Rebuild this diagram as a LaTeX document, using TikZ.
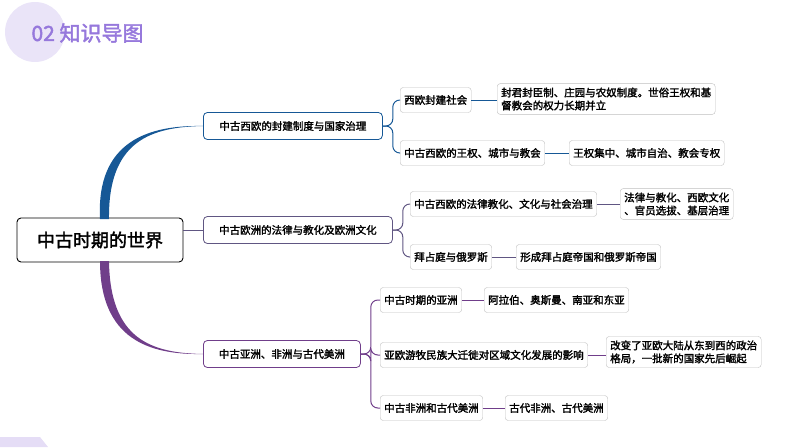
\documentclass[tikz,border=0pt]{standalone}
\usepackage{fontspec}
\setmainfont{Noto Sans CJK SC}[AutoFakeBold=2]
\usetikzlibrary{positioning}
\definecolor{bluebr}{RGB}{22,88,150}
\definecolor{purplebr}{RGB}{112,62,138}
\definecolor{graybr}{RGB}{96,86,130}
\definecolor{titlecol}{RGB}{150,120,220}
\begin{document}
\begin{tikzpicture}[x=1pt,y=-1pt,
  box/.style={draw=black!25,rounded corners=3pt,fill=white,font=\bfseries\fontsize{10.5}{13}\selectfont,inner sep=4pt,minimum height=25pt,align=left},
  mainbox/.style={draw,rounded corners=4pt,line width=0.8pt,fill=white,font=\bfseries\fontsize{10.5}{13}\selectfont,minimum height=27pt,align=center},
  link/.style={line width=1pt,rounded corners=7pt}]
\useasboundingbox (0,0) rectangle (794,447);

% title
\fill [color = titlecol!20] (35,32) circle (30);
\node (title) [anchor=west, text=titlecol, font=\bfseries\fontsize{21}{24}\selectfont] at (28,33) {02 知识导图};
\fill [color = titlecol!25] (0,447) -- (0,437) -- (40,437) -- (48,447) -- cycle;

% root
\node (root) [draw, rounded corners=4pt, line width=0.9pt, minimum width=166pt, minimum height=44pt,
  font=\bfseries\fontsize{18}{21}\selectfont] at (100,240) {中古时期的世界};

% first level
\node (a) [mainbox, draw=bluebr, minimum width=179pt, anchor=west] at (203,126) {中古西欧的封建制度与国家治理};
\node (b) [mainbox, draw=graybr, minimum width=189pt, anchor=west] at (203,230) {中古欧洲的法律与教化及欧洲文化};
\node (c) [mainbox, draw=purplebr, minimum width=157pt, anchor=west] at (203,354) {中古亚洲、非洲与古代美洲};

% root branches
\fill [bluebr] (100,219) .. controls (96,140) and (150,125) .. (a.west)
  .. controls (152,127) and (108,140) .. (109,219) -- cycle;
\fill [purplebr] (100,261) .. controls (100,340) and (150,355) .. (c.west)
  .. controls (152,353) and (110,340) .. (109,261) -- cycle;
\draw [graybr, line width=1pt] (root.east |- b.west) -- (b.west);

% second level
\node (a1) [box, anchor=west] at (400,100) {西欧封建社会};
\node (a2) [box, anchor=west] at (400,153) {中古西欧的王权、城市与教会};
\node (b1) [box, anchor=west] at (410,204) {中古西欧的法律教化、文化与社会治理};
\node (b2) [box, anchor=west] at (410,257) {拜占庭与俄罗斯};
\node (c1) [box, anchor=west] at (380,300) {中古时期的亚洲};
\node (c2) [box, anchor=west] at (380,355) {亚欧游牧民族大迁徙对区域文化发展的影响};
\node (c3) [box, anchor=west] at (380,408) {中古非洲和古代美洲};

% third level
\node (a11) [box, anchor=west] at (497,99) {封君封臣制、庄园与农奴制度。世俗王权和基\\督教会的权力长期并立};
\node (a21) [box, anchor=west] at (569,153) {王权集中、城市自治、教会专权};
\node (b11) [box, anchor=west] at (620,204) {法律与教化、西欧文化\\、官员选拔、基层治理};
\node (b21) [box, anchor=west] at (516,257) {形成拜占庭帝国和俄罗斯帝国};
\node (c11) [box, anchor=west] at (484,300) {阿拉伯、奥斯曼、南亚和东亚};
\node (c21) [box, anchor=west] at (606,352) {改变了亚欧大陆从东到西的政治\\格局，一批新的国家先后崛起};
\node (c31) [box, anchor=west] at (505,408) {古代非洲、古代美洲};

% brackets
\draw [link, bluebr] (a.east) -- ++(10,0) |- (a1.west);
\draw [link, bluebr] (a.east) -- ++(10,0) |- (a2.west);
\draw [link, graybr] (b.east) -- ++(10,0) |- (b1.west);
\draw [link, graybr] (b.east) -- ++(10,0) |- (b2.west);
\draw [link, purplebr] (c.east) -- ++(10,0) |- (c1.west);
\draw [link, purplebr] (c.east) -- ++(10,0) |- (c2.west);
\draw [link, purplebr] (c.east) -- ++(10,0) |- (c3.west);

% leaves
\draw [link, bluebr] (a1.east) -- (a1.east -| a11.west);
\draw [link, bluebr] (a2) -- (a21);
\draw [link, graybr] (b1.east) -- (b1.east -| b11.west);
\draw [link, graybr] (b2) -- (b21);
\draw [link, purplebr] (c1) -- (c11);
\draw [link, purplebr] (c2) -- (c2.east -| c21.west);
\draw [link, purplebr] (c3) -- (c31);
\end{tikzpicture}
\end{document}
